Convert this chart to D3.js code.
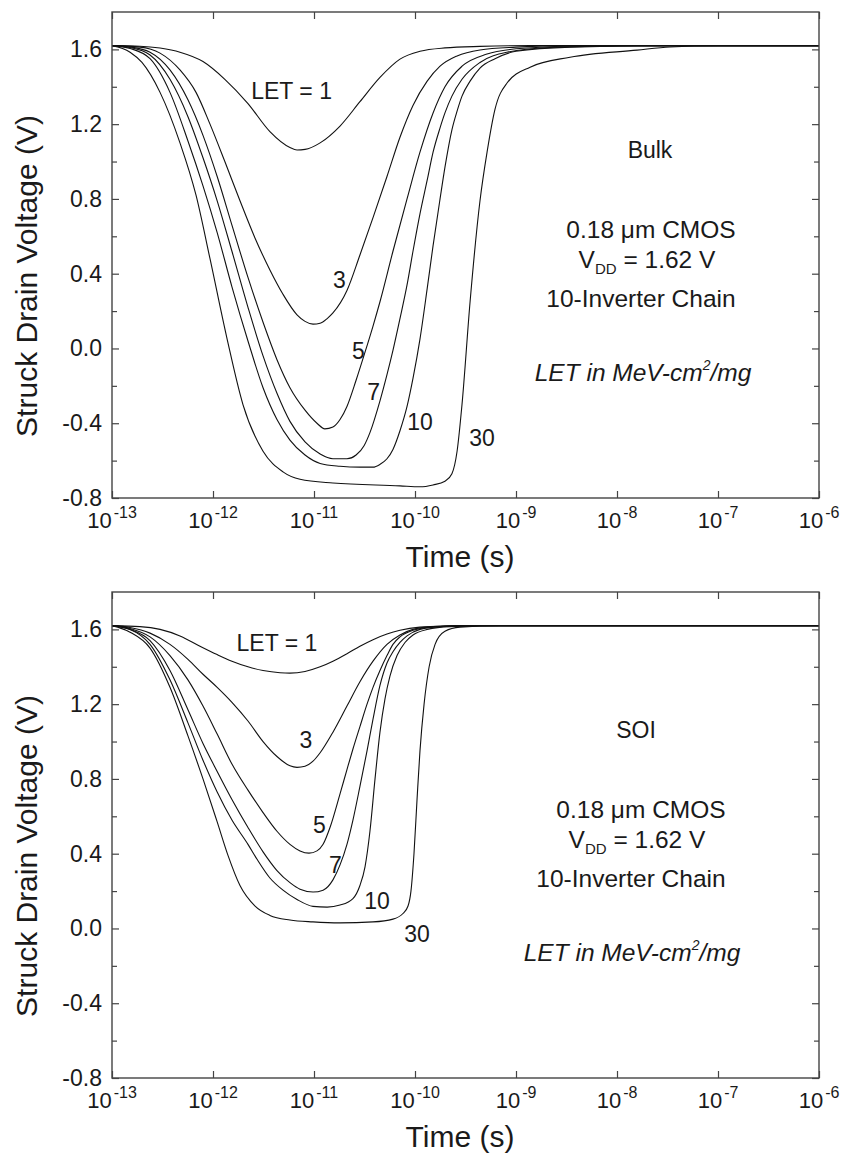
<!DOCTYPE html>
<html>
<head>
<meta charset="utf-8">
<script src="https://cdn.jsdelivr.net/npm/d3@7"></script>
<style>
  body { margin: 0; background: #fff; }
  text { font-family: "Liberation Sans", Arial, sans-serif; fill: #1a1a1a; }
</style>
</head>
<body>
<div id="chart"></div>
<script>
// time (s), struck drain voltage (V)
var bulkLet1 = [[1e-13,1.62],[1.89e-13,1.617],[2.99e-13,1.607],[4.71e-13,1.585],[7.96e-13,1.535],[1.31e-12,1.44],[2.22e-12,1.31],[3.66e-12,1.16],[5.78e-12,1.075],[6.79e-12,1.062],[8.15e-12,1.065],[1.15e-11,1.10],[1.81e-11,1.19],[2.85e-11,1.32],[4.5e-11,1.45],[7.1e-11,1.548],[1.12e-10,1.59],[1.98e-10,1.608],[4.4e-10,1.616],[1.38e-9,1.62],[1e-6,1.62]];
var bulkLet3 = [[1e-13,1.62],[1.89e-13,1.612],[2.99e-13,1.58],[4.71e-13,1.49],[6.79e-13,1.37],[9.34e-13,1.20],[1.31e-12,1.00],[1.85e-12,0.79],[2.61e-12,0.59],[3.66e-12,0.42],[4.93e-12,0.29],[6.79e-12,0.18],[8.15e-12,0.145],[9.78e-12,0.13],[1.15e-11,0.135],[1.35e-11,0.16],[1.54e-11,0.19],[2.12e-11,0.31],[2.85e-11,0.50],[3.84e-11,0.70],[5.28e-11,0.92],[7.1e-11,1.13],[9.55e-11,1.30],[1.32e-10,1.43],[1.77e-10,1.51],[2.61e-10,1.565],[4.4e-10,1.597],[1e-9,1.612],[3.43e-9,1.62],[1e-6,1.62]];
var bulkLet5 = [[1e-13,1.62],[1.51e-13,1.613],[2.38e-13,1.585],[3.75e-13,1.49],[5.65e-13,1.33],[7.96e-13,1.14],[1.1e-12,0.92],[1.54e-12,0.66],[2.22e-12,0.38],[3.13e-12,0.14],[4.3e-12,-0.06],[5.78e-12,-0.21],[8.15e-12,-0.33],[1.07e-11,-0.40],[1.28e-11,-0.43],[1.54e-11,-0.42],[1.81e-11,-0.38],[2.12e-11,-0.31],[2.61e-11,-0.17],[3.2e-11,-0.02],[3.84e-11,0.12],[4.5e-11,0.25],[6.05e-11,0.52],[8.34e-11,0.80],[1.12e-10,1.05],[1.51e-10,1.26],[1.98e-10,1.40],[2.92e-10,1.51],[5.17e-10,1.575],[1e-9,1.603],[3.43e-9,1.617],[1.58e-8,1.62],[1e-6,1.62]];
var bulkLet7 = [[1e-13,1.62],[1.51e-13,1.61],[2.38e-13,1.57],[3.75e-13,1.44],[5.65e-13,1.24],[7.96e-13,1.02],[1.1e-12,0.79],[1.54e-12,0.52],[2.22e-12,0.22],[3.13e-12,-0.04],[4.3e-12,-0.24],[5.78e-12,-0.39],[8.15e-12,-0.50],[1.15e-11,-0.565],[1.54e-11,-0.59],[2.12e-11,-0.59],[2.61e-11,-0.57],[3.13e-11,-0.52],[3.58e-11,-0.45],[4.5e-11,-0.28],[5.28e-11,-0.14],[6.05e-11,-0.01],[7.1e-11,0.16],[8.34e-11,0.34],[9.55e-11,0.52],[1.12e-10,0.72],[1.32e-10,0.90],[1.51e-10,1.05],[1.77e-10,1.18],[1.98e-10,1.26],[2.32e-10,1.35],[2.92e-10,1.44],[4.4e-10,1.53],[8.15e-10,1.585],[2.17e-9,1.61],[1.58e-8,1.62],[1e-6,1.62]];
var bulkLet10 = [[1e-13,1.62],[1.51e-13,1.605],[2.38e-13,1.55],[3.75e-13,1.37],[5.65e-13,1.11],[7.96e-13,0.87],[1.1e-12,0.62],[1.54e-12,0.33],[2.22e-12,0.04],[3.13e-12,-0.21],[4.3e-12,-0.38],[5.78e-12,-0.49],[8.15e-12,-0.57],[1.15e-11,-0.615],[1.81e-11,-0.63],[2.85e-11,-0.635],[3.84e-11,-0.635],[4.5e-11,-0.62],[5.28e-11,-0.59],[6.05e-11,-0.54],[7.1e-11,-0.44],[8.34e-11,-0.31],[9.55e-11,-0.16],[1.12e-10,0.05],[1.32e-10,0.32],[1.51e-10,0.55],[1.77e-10,0.80],[1.98e-10,0.97],[2.32e-10,1.17],[2.61e-10,1.27],[2.92e-10,1.35],[3.51e-10,1.43],[4.4e-10,1.50],[6.2e-10,1.55],[1e-9,1.59],[3.43e-9,1.612],[3.35e-8,1.62],[1e-6,1.62]];
var bulkLet30 = [[1e-13,1.62],[1.51e-13,1.585],[1.98e-13,1.53],[2.99e-13,1.37],[4.71e-13,1.10],[6.79e-13,0.82],[9.34e-13,0.48],[1.38e-12,0.05],[1.98e-12,-0.30],[3.13e-12,-0.55],[4.93e-12,-0.66],[7.27e-12,-0.70],[1.54e-11,-0.72],[7.1e-11,-0.735],[1.12e-10,-0.74],[1.51e-10,-0.73],[1.98e-10,-0.71],[2.32e-10,-0.67],[2.61e-10,-0.55],[2.92e-10,-0.30],[3.51e-10,0.25],[4.4e-10,0.79],[5.17e-10,1.05],[6.2e-10,1.28],[8.15e-10,1.42],[1.38e-9,1.505],[3.43e-9,1.558],[1.58e-8,1.596],[3.35e-8,1.613],[1e-7,1.62],[1e-6,1.62]];

var soiLet1 = [[1e-13,1.62],[1.89e-13,1.615],[2.99e-13,1.60],[4.71e-13,1.565],[7.43e-13,1.51],[1.1e-12,1.465],[1.54e-12,1.43],[2.22e-12,1.40],[3.13e-12,1.38],[4.61e-12,1.368],[5.78e-12,1.366],[8.15e-12,1.375],[1.15e-11,1.40],[1.54e-11,1.43],[2.12e-11,1.47],[2.85e-11,1.51],[3.84e-11,1.545],[5.28e-11,1.575],[7.1e-11,1.595],[1.12e-10,1.612],[1.98e-10,1.618],[4.4e-10,1.62],[1e-6,1.62]];
var soiLet3 = [[1e-13,1.62],[1.51e-13,1.61],[2.38e-13,1.58],[3.75e-13,1.52],[5.65e-13,1.44],[7.96e-13,1.36],[1.1e-12,1.29],[1.54e-12,1.21],[2.22e-12,1.11],[3.13e-12,1.00],[4.3e-12,0.92],[5.78e-12,0.87],[6.79e-12,0.862],[8.15e-12,0.868],[9.78e-12,0.895],[1.15e-11,0.94],[1.54e-11,1.05],[2.12e-11,1.19],[2.85e-11,1.32],[3.84e-11,1.43],[5.28e-11,1.52],[7.1e-11,1.57],[9.55e-11,1.60],[1.51e-10,1.615],[3.51e-10,1.62],[1e-6,1.62]];
var soiLet5 = [[1e-13,1.62],[1.51e-13,1.605],[2.38e-13,1.56],[3.75e-13,1.46],[5.65e-13,1.33],[7.96e-13,1.19],[1.1e-12,1.04],[1.54e-12,0.88],[2.22e-12,0.74],[3.13e-12,0.62],[4.3e-12,0.52],[5.78e-12,0.45],[7.27e-12,0.415],[8.92e-12,0.403],[1.07e-11,0.415],[1.23e-11,0.45],[1.44e-11,0.54],[1.81e-11,0.72],[2.12e-11,0.85],[2.43e-11,0.96],[2.85e-11,1.08],[3.35e-11,1.20],[3.84e-11,1.29],[4.5e-11,1.38],[5.28e-11,1.46],[6.05e-11,1.52],[7.1e-11,1.56],[9.55e-11,1.595],[1.51e-10,1.613],[3.51e-10,1.62],[1e-6,1.62]];
var soiLet7 = [[1e-13,1.62],[1.51e-13,1.60],[2.38e-13,1.54],[3.75e-13,1.38],[5.65e-13,1.17],[7.96e-13,0.99],[1.1e-12,0.84],[1.54e-12,0.69],[2.22e-12,0.54],[3.13e-12,0.41],[4.3e-12,0.31],[5.78e-12,0.245],[7.27e-12,0.21],[9.78e-12,0.195],[1.23e-11,0.205],[1.54e-11,0.26],[1.81e-11,0.34],[2.12e-11,0.45],[2.43e-11,0.58],[2.85e-11,0.76],[3.35e-11,0.95],[3.84e-11,1.12],[4.5e-11,1.30],[5.28e-11,1.42],[6.05e-11,1.48],[7.1e-11,1.53],[8.34e-11,1.565],[1.12e-10,1.60],[1.77e-10,1.615],[4.4e-10,1.62],[1e-6,1.62]];
var soiLet10 = [[1e-13,1.62],[1.51e-13,1.60],[2.38e-13,1.52],[3.75e-13,1.33],[5.65e-13,1.10],[7.96e-13,0.90],[1.1e-12,0.73],[1.54e-12,0.58],[2.22e-12,0.45],[2.73e-12,0.37],[3.66e-12,0.27],[4.93e-12,0.205],[6.79e-12,0.155],[9.78e-12,0.118],[1.35e-11,0.114],[1.81e-11,0.125],[2.43e-11,0.16],[2.85e-11,0.23],[3.2e-11,0.33],[3.58e-11,0.52],[4.02e-11,0.80],[4.5e-11,1.05],[5.05e-11,1.23],[5.65e-11,1.35],[6.64e-11,1.46],[7.96e-11,1.53],[9.55e-11,1.57],[1.32e-10,1.60],[2.22e-10,1.615],[6.95e-10,1.62],[1e-6,1.62]];
var soiLet30 = [[1e-13,1.62],[1.51e-13,1.585],[2.38e-13,1.50],[3.75e-13,1.29],[5.65e-13,1.03],[7.96e-13,0.80],[1.1e-12,0.57],[1.41e-12,0.39],[1.85e-12,0.23],[2.61e-12,0.12],[3.66e-12,0.07],[5.78e-12,0.045],[9.78e-12,0.035],[1.81e-11,0.03],[3.84e-11,0.035],[6.05e-11,0.05],[7.6e-11,0.08],[8.53e-11,0.12],[9.12e-11,0.20],[9.77e-11,0.40],[1.05e-10,0.70],[1.12e-10,0.95],[1.23e-10,1.20],[1.38e-10,1.40],[1.58e-10,1.52],[1.98e-10,1.59],[2.79e-10,1.612],[6.95e-10,1.62],[1e-6,1.62]];

// curve labels: text, time, voltage
var bulkLabels = [["LET = 1",6e-12,1.334],["3",1.78e-11,0.323],["5",2.75e-11,-0.057],["7",3.9e-11,-0.276],["10",1.12e-10,-0.436],["30",4.6e-10,-0.522]];
var soiLabels = [["LET = 1",4.3e-12,1.483],["3",8.3e-12,0.965],["5",1.13e-11,0.51],["7",1.63e-11,0.296],["10",4.2e-11,0.104],["30",1.05e-10,-0.073]];

var xTicks = [1e-13,1e-12,1e-11,1e-10,1e-9,1e-8,1e-7,1e-6];
var yMajor = [-0.8,-0.4,0.0,0.4,0.8,1.2,1.6];
var yMinor = [-0.6,-0.2,0.2,0.6,1.0,1.4];

var W = 845, H = 1155;
var left = 112, right = 819;

var svg = d3.select("#chart").append("svg")
    .attr("width", W)
    .attr("height", H);

function draw_panel(top, bottom, series, labels, device, infoX){
    var x = d3.scaleLog().domain([1e-13, 1e-6]).range([left, right]);
    var y = d3.scaleLinear().domain([-0.8, 1.8]).range([bottom, top]);
    var g = svg.append("g");

    var line = d3.line()
        .x(function(d){ return x(d[0]); })
        .y(function(d){ return y(d[1]); })
        .curve(d3.curveMonotoneX);

    g.selectAll("path.curve")
        .data(series)
        .enter().append("path")
        .attr("class", "curve")
        .attr("d", line)
        .style("fill", "none")
        .style("stroke", "#111")
        .style("stroke-width", 1.1);

    // ticks point inward on all four sides
    function ticks(axis, tx, ty){
        var a = g.append("g").attr("transform", "translate(" + [tx, ty] + ")").call(axis);
        a.select(".domain").remove();
        a.selectAll("line").style("stroke", "#444").style("stroke-width", 1.2);
        return a;
    }
    ticks(d3.axisBottom(x).tickValues(xTicks).tickSize(-7).tickFormat(""), 0, bottom);
    ticks(d3.axisTop(x).tickValues(xTicks).tickSize(-7).tickFormat(""), 0, top);
    ticks(d3.axisLeft(y).tickValues(yMinor).tickSize(-5).tickFormat(""), left, 0);
    ticks(d3.axisRight(y).tickValues(yMinor).tickSize(-5).tickFormat(""), right, 0);
    ticks(d3.axisRight(y).tickValues(yMajor).tickSize(-7).tickFormat(""), right, 0);
    var yl = ticks(d3.axisLeft(y).tickValues(yMajor).tickSize(-7).tickPadding(10)
        .tickFormat(function(d){ return d.toFixed(1); }), left, 0);
    yl.selectAll("text").style("font-size", "23px").style("font-family", null);

    g.append("rect")
        .attr("x", left).attr("y", top)
        .attr("width", right - left).attr("height", bottom - top)
        .style("fill", "none")
        .style("stroke", "#444")
        .style("stroke-width", 1.4);

    // decade labels 10^n
    var xl = g.selectAll("text.xlab")
        .data(xTicks)
        .enter().append("text")
        .attr("class", "xlab")
        .attr("x", function(d){ return x(d); })
        .attr("y", bottom + 30)
        .attr("text-anchor", "middle")
        .style("font-size", "22px")
        .text("10");
    xl.append("tspan")
        .attr("dx", 2)
        .attr("dy", -10)
        .style("font-size", "16px")
        .text(function(d){ return "-" + Math.round(-Math.log10(d)); });

    g.append("text")
        .attr("x", 460).attr("y", bottom + 69)
        .attr("text-anchor", "middle")
        .style("font-size", "30px")
        .text("Time (s)");

    g.append("text")
        .attr("transform", "translate(37," + (bottom - 222) + ") rotate(-90)")
        .attr("text-anchor", "middle")
        .style("font-size", "30px")
        .text("Struck Drain Voltage (V)");

    g.selectAll("text.let")
        .data(labels)
        .enter().append("text")
        .attr("class", "let")
        .attr("x", function(d){ return x(d[1]); })
        .attr("y", function(d){ return y(d[2]); })
        .attr("text-anchor", "middle")
        .style("font-size", "23px")
        .text(function(d){ return d[0]; });

    // device description block
    var info = g.append("g").style("font-size", "24.5px").attr("text-anchor", "middle");
    info.append("text").attr("x", infoX[0]).attr("y", top + 146).style("font-size", "23px").text(device);
    info.append("text").attr("x", infoX[1]).attr("y", top + 226).text("0.18 \u03bcm CMOS");
    var vdd = info.append("text").attr("x", infoX[2]).attr("y", top + 256).text("V");
    vdd.append("tspan").attr("dy", 6).style("font-size", "15px").text("DD");
    vdd.append("tspan").attr("dy", -6).text(" = 1.62 V");
    info.append("text").attr("x", infoX[3]).attr("y", top + 295).text("10-Inverter Chain");
    var unit = info.append("text").attr("x", infoX[4]).attr("y", top + 369)
        .style("font-style", "italic").text("LET in MeV-cm");
    unit.append("tspan").attr("dy", -11).style("font-size", "14px").text("2");
    unit.append("tspan").attr("dy", 11).text("/mg");
}

draw_panel(12, 498,
    [bulkLet1, bulkLet3, bulkLet5, bulkLet7, bulkLet10, bulkLet30],
    bulkLabels, "Bulk", [650, 651, 647, 641, 643]);
draw_panel(592, 1078,
    [soiLet1, soiLet3, soiLet5, soiLet7, soiLet10, soiLet30],
    soiLabels, "SOI", [636, 641, 637, 631, 632]);
</script>
</body>
</html>
